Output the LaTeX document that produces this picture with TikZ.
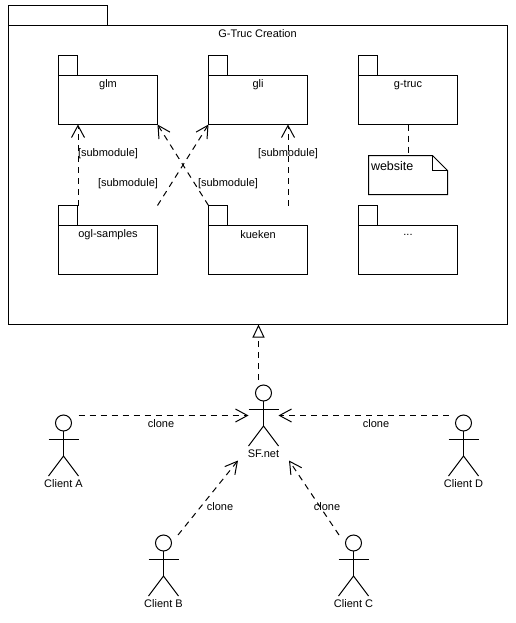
\documentclass[tikz,border=0pt]{standalone}
\usepackage{fontspec}
\setmainfont{Liberation Sans}
\usetikzlibrary{arrows.meta,calc}
\tikzset{
  x=1pt,y=-1pt,
  every node/.style={font=\fontsize{11}{13}\selectfont,inner sep=0pt,outer sep=0pt},
  shapeline/.style={draw=black,line width=1pt,line join=miter},
  pkgbody/.style={shapeline,rectangle,minimum width=99pt,minimum height=49pt,anchor=north west},
  pkgtab/.style={shapeline,rectangle,minimum width=19pt,minimum height=20pt,anchor=south west},
  pkgtext/.style={anchor=center},
  dep/.style={draw=black,line width=1pt,dash pattern=on 6pt off 5pt},
  openhead/.style={dep,-{Straight Barb[length=12pt,width=13pt,line width=1pt]}},
  realize/.style={dep,-{Triangle[open,fill=white,length=13pt,width=12pt,line width=1pt]}},
  actorhead/.style={shapeline,circle,minimum size=16pt},
  lbl/.style={anchor=center,fill=none},
}
\newcommand{\pkg}[4]{%
  \node[pkgbody] (#1) at (#2,#3) {};
  \node[pkgtab] (#1tab) at (#1.north west) {};
  \node[pkgtext] (#1txt) at ($(#1.north)+(0,9.5)$) {#4};
}
\newcommand{\actor}[4]{%
  \node[actorhead] (#1) at (#2,#3) {};
  \draw[shapeline] (#1.south) -- ++(0,25) coordinate (#1hip);
  \draw[shapeline] ($(#1.south)+(-15,8)$) -- ($(#1.south)+(15,8)$);
  \draw[shapeline] ($(#1hip)+(-15,20)$) -- (#1hip) -- ($(#1hip)+(15,20)$);
  \node[anchor=center] (#1lbl) at ($(#1hip)+(0,27.5)$) {#4};
}
\begin{document}
\begin{tikzpicture}
\useasboundingbox (0,0) rectangle (515,623);
% outer package
\node[shapeline,rectangle,minimum width=499pt,minimum height=299pt,anchor=north west] (outer) at (8.5,25.5) {};
\node[shapeline,rectangle,minimum width=99pt,minimum height=20pt,anchor=south west] (outertab) at (outer.north west) {};
\node[anchor=center] (outertxt) at (257.5,33.5) {G-Truc Creation};
% inner packages
\pkg{glm}{58.5}{75.5}{glm}
\pkg{gli}{208.5}{75.5}{gli}
\pkg{gtruc}{358.5}{75.5}{g-truc}
\pkg{ogl}{58.5}{225.5}{ogl-samples}
\pkg{kueken}{208.5}{225.5}{kueken}
\pkg{dots}{358.5}{225.5}{...}
% note
\coordinate (nw) at (368.5,155.5);
\coordinate (nse) at (447.5,194.5);
\draw[shapeline] (nw) -- (432.5,155.5) -- (447.5,170.5) -- (nse) -- (368.5,194.5) -- cycle;
\draw[shapeline] (432.5,155.5) -- (432.5,170.5) -- (447.5,170.5);
\node[anchor=west,font=\fontsize{12.5}{14}\selectfont] (website) at (371,166) {website};
\coordinate (notetop) at (408,155.5);
\draw[dep] (gtruc.south) -- (notetop);
% submodule dependencies
\draw[openhead] ($(ogl.north west)+(19.5,-20)$) -- ($(glm.south west)+(19.5,0)$);
\draw[openhead] ($(ogl.north east)+(0,-20)$) -- (gli.south west);
\draw[openhead] ($(kueken.north west)+(0,-20)$) -- (glm.south east);
\draw[openhead] ($(kueken.north west)+(79.5,-20)$) -- ($(gli.south west)+(79.5,0)$);
\node[lbl] (s1) at (108,153.5) {[submodule]};
\node[lbl] (s2) at (128,183.5) {[submodule]};
\node[lbl] (s3) at (228,183.5) {[submodule]};
\node[lbl] (s4) at (288,153.5) {[submodule]};
% actors
\actor{sf}{263.5}{393}{SF.net}
\actor{ca}{63.5}{423}{Client A}
\actor{cd}{463.5}{423}{Client D}
\actor{cb}{163.5}{543}{Client B}
\actor{cc}{353.5}{543}{Client C}
% clone connectors
\coordinate (sfw) at (248.5,415.5);
\coordinate (sfe) at (278.5,415.5);
\coordinate (sfsw) at (238,460.5);
\coordinate (sfse) at (289,460.5);
\coordinate (caout) at (78.5,415.5);
\coordinate (cdout) at (448.5,415.5);
\coordinate (cbout) at (178,535);
\coordinate (ccout) at (339,535);
\draw[openhead] (caout) -- (sfw);
\draw[openhead] (cdout) -- (sfe);
\draw[openhead] (cbout) -- (sfsw);
\draw[openhead] (ccout) -- (sfse);
\coordinate (sfup) at (258.5,380);
\draw[realize] (sfup) -- (outer.south -| sfup);
\node[lbl] (c1) at (161,423.5) {clone};
\node[lbl] (c2) at (376,423.5) {clone};
\node[lbl] (c3) at (220,506.5) {clone};
\node[lbl] (c4) at (327,506.5) {clone};
\end{tikzpicture}
\end{document}
